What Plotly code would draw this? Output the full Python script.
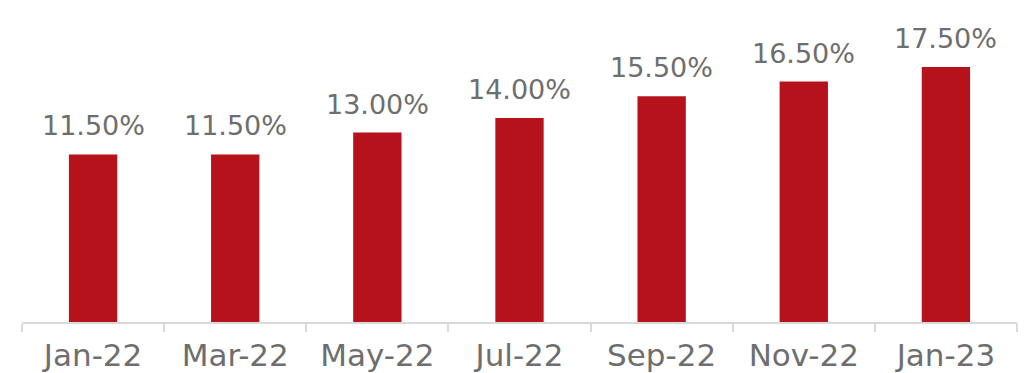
import plotly.graph_objects as go

months = ["Jan-22", "Mar-22", "May-22", "Jul-22", "Sep-22", "Nov-22", "Jan-23"]
rates = [11.5, 11.5, 13.0, 14.0, 15.5, 16.5, 17.5]
rate_labels = ["11.50%", "11.50%", "13.00%", "14.00%", "15.50%", "16.50%", "17.50%"]

bar_color = "#B5121B"
text_color = "#6E6E6E"
axis_color = "#D9D9D9"
font_family = "DejaVu Sans ExtraLight, DejaVu Sans, sans-serif"

fig = go.Figure(
    go.Bar(
        x=months,
        y=rates,
        marker=dict(color=bar_color, line=dict(width=0)),
        hoverinfo="skip",
    )
)

# value labels above each bar
for m, v, t in zip(months, rates, rate_labels):
    fig.add_annotation(
        x=m, y=v, text=t, showarrow=False,
        yanchor="bottom", yshift=11,
        font=dict(family=font_family, size=27, color=text_color),
    )

fig.update_layout(
    width=1034,
    height=373,
    margin=dict(l=22, r=17, t=0, b=47),
    paper_bgcolor="white",
    plot_bgcolor="white",
    bargap=0.66,
    showlegend=False,
)
fig.update_xaxes(
    type="category",
    showline=True,
    linecolor=axis_color,
    linewidth=2,
    ticks="outside",
    tickson="boundaries",
    ticklen=8,
    tickcolor=axis_color,
    tickwidth=2,
    ticklabelstandoff=5,
    tickfont=dict(family=font_family, size=31, color=text_color),
    showgrid=False,
)
fig.update_yaxes(
    range=[0, 22.1],
    visible=False,
    showgrid=False,
    zeroline=False,
)

fig.write_html("out.html")
